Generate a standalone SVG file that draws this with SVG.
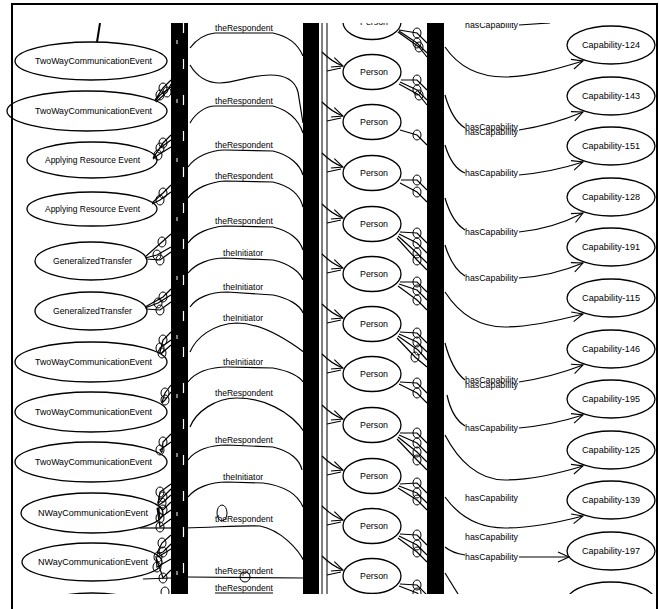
<svg xmlns="http://www.w3.org/2000/svg" width="659" height="609" viewBox="0 0 659 609">
<style>
.n ellipse{fill:none;stroke:#000;stroke-width:1.3}
text{font-family:"Liberation Sans",Arial,sans-serif;font-size:9px;fill:#000}
#connectors path{fill:none;stroke:#000;stroke-width:1.2}
#connectors ellipse{fill:none;stroke:#000;stroke-width:1}
.bar{fill:#000}
</style>
<defs>
<marker id="v" markerUnits="userSpaceOnUse" markerWidth="14" markerHeight="12" refX="12" refY="6" orient="auto"><path d="M1,1 L12,6 L1,11" fill="none" stroke="#000" stroke-width="1.1"/></marker>
<clipPath id="cl"><rect x="0" y="23" width="659" height="571"/></clipPath>
</defs>
<rect width="659" height="609" fill="#fff"/>
<path d="M12,609 V4 H657 V609" fill="none" stroke="#000" stroke-width="2"/>
<g clip-path="url(#cl)">
<g id="bars">
<rect class="bar" x="171" y="23" width="17" height="571"/>
<line x1="183.5" y1="23" x2="183.5" y2="594" stroke="#fff" stroke-width="1.2" stroke-dasharray="10 26"/>
<line x1="177" y1="40" x2="177" y2="594" stroke="#fff" stroke-width="1" stroke-dasharray="4 55"/>
<rect class="bar" x="303" y="23" width="16" height="571"/>
<line x1="322" y1="23" x2="322" y2="594" stroke="#000" stroke-width="1"/>
<line x1="327" y1="23" x2="327" y2="594" stroke="#000" stroke-width="1"/>
<rect class="bar" x="427" y="23" width="17" height="571"/>
</g>
<g id="connectors">
<path d="M100,23 L97,42" style="stroke-width:2"/>
<path d="M155,100 L163,88 L171,80 M155,101 L160,95 L171,87 M156,102 L167,92 L171,84"/>
<ellipse cx="163" cy="88" rx="4" ry="5"/><ellipse cx="160" cy="95" rx="4" ry="5"/><ellipse cx="167" cy="92" rx="4" ry="5"/>
<path d="M153,158 L163,143 L171,135 M153,158 L160,148 L171,140 M153,159 L158,155 L171,147"/>
<ellipse cx="163" cy="143" rx="4" ry="5"/><ellipse cx="160" cy="148" rx="4" ry="5"/><ellipse cx="158" cy="155" rx="4" ry="5"/>
<path d="M152,203 L163,193 L171,185 M152,204 L160,200 L171,192"/>
<ellipse cx="163" cy="193" rx="4" ry="5"/><ellipse cx="160" cy="200" rx="4" ry="5"/>
<path d="M145,257 L162,242 L171,234 M145,258 L157,255 L171,247 M146,259 L160,260 L171,252"/>
<ellipse cx="162" cy="242" rx="4" ry="5"/><ellipse cx="157" cy="255" rx="4" ry="5"/><ellipse cx="160" cy="260" rx="4" ry="5"/>
<path d="M145,307 L163,297 L171,289 M145,308 L158,303 L171,295 M146,309 L160,310 L171,302"/>
<ellipse cx="163" cy="297" rx="4" ry="5"/><ellipse cx="158" cy="303" rx="4" ry="5"/><ellipse cx="160" cy="310" rx="4" ry="5"/>
<path d="M160,352 L163,340 L171,332 M160,353 L160,348 L171,340 M161,354 L162,353 L171,345"/>
<ellipse cx="163" cy="340" rx="4" ry="5"/><ellipse cx="160" cy="348" rx="4" ry="5"/><ellipse cx="162" cy="353" rx="4" ry="5"/>
<path d="M162,402 L165,393 L171,385 M162,403 L165,400 L171,392"/>
<ellipse cx="165" cy="393" rx="4" ry="5"/><ellipse cx="165" cy="400" rx="4" ry="5"/>
<path d="M162,452 L163,442 L171,434 M162,453 L160,450 L171,442"/>
<ellipse cx="163" cy="442" rx="4" ry="5"/><ellipse cx="160" cy="450" rx="4" ry="5"/>
<path d="M158,503 L160,492 L171,484 M158,504 L163,497 L171,489 M159,505 L162,503 L171,495 M159,506 L163,510 L171,502 M158,507 L160,518 L171,510 M157,508 L160,527 L171,519"/>
<ellipse cx="160" cy="492" rx="4" ry="5"/><ellipse cx="163" cy="497" rx="4" ry="5"/><ellipse cx="162" cy="503" rx="4" ry="5"/><ellipse cx="163" cy="510" rx="4" ry="5"/><ellipse cx="160" cy="518" rx="4" ry="5"/><ellipse cx="160" cy="527" rx="4" ry="5"/>
<path d="M140,528 L171,528"/>
<path d="M157,553 L162,543 L171,535 M157,554 L163,552 L171,544 M157,555 L158,557 L171,549 M156,556 L157,567 L171,559 M156,557 L163,578 L171,570"/>
<ellipse cx="162" cy="543" rx="4" ry="5"/><ellipse cx="163" cy="552" rx="4" ry="5"/><ellipse cx="158" cy="557" rx="4" ry="5"/><ellipse cx="157" cy="567" rx="4" ry="5"/><ellipse cx="163" cy="578" rx="4" ry="5"/>
<path d="M143,579 L171,578"/>
<ellipse cx="165" cy="592" rx="4" ry="5"/>
<path d="M190,48 C196,40 205,34 215,33 L273,33 C287,36 298,44 303,56"/>
<path d="M190,65 C196,75 206,83 220,83 C235,83 250,75 270,75 C285,75 295,80 298,92 L303,123"/>
<path d="M190,123 C195,114 205,106 215,106 L273,106 C287,110 298,118 303,133"/>
<path d="M188,167 C195,157 210,150 225,150 L273,151 C290,155 300,165 303,175"/>
<path d="M188,198 C195,188 210,182 225,181 L273,182 C290,186 300,195 303,207"/>
<path d="M188,243 C195,233 210,227 225,226 L273,227 C290,231 300,240 303,250"/>
<path d="M188,273 C195,264 210,258 225,258 L273,260 C290,264 300,272 303,280"/>
<path d="M190,307 C196,298 210,292 227,292 L273,295 C288,298 300,305 303,313"/>
<path d="M190,352 C196,338 212,324 237,323 C260,323 285,338 305,353"/>
<path d="M188,382 C195,372 210,367 227,367 L273,368 C290,371 300,377 303,382"/>
<path d="M190,427 C196,412 215,398 237,398 C262,398 290,410 305,433"/>
<path d="M188,460 C195,450 210,445 227,445 L273,447 C290,451 300,460 302,470"/>
<path d="M188,497 C195,488 210,482 227,482 L263,483 C285,486 298,495 303,507"/>
<path d="M185,528 C220,527 247,525 260,526 C280,530 298,548 305,563"/>
<ellipse cx="222" cy="513" rx="5" ry="8"/>
<path d="M188,577 L303,578"/>
<ellipse cx="245" cy="577" rx="5" ry="5"/>
<path d="M215,593 L273,593"/>
<path d="M322,2 Q332,12 343,16" marker-end="url(#v)"/><path d="M327,21 L341,18"/>
<path d="M322,52 Q332,62 343,66" marker-end="url(#v)"/><path d="M327,71 L341,68"/>
<path d="M322,102 Q332,112 343,116" marker-end="url(#v)"/><path d="M327,121 L341,118"/>
<path d="M322,153 Q332,163 343,167" marker-end="url(#v)"/><path d="M327,172 L341,169"/>
<path d="M322,204 Q332,214 343,218" marker-end="url(#v)"/><path d="M327,223 L341,220"/>
<path d="M322,254 Q332,264 343,268" marker-end="url(#v)"/><path d="M327,273 L341,270"/>
<path d="M322,304 Q332,314 343,318" marker-end="url(#v)"/><path d="M327,323 L341,320"/>
<path d="M322,354 Q332,364 343,368" marker-end="url(#v)"/><path d="M327,373 L341,370"/>
<path d="M322,405 Q332,415 343,419" marker-end="url(#v)"/><path d="M327,424 L341,421"/>
<path d="M322,456 Q332,466 343,470" marker-end="url(#v)"/><path d="M327,475 L341,472"/>
<path d="M322,506 Q332,516 343,520" marker-end="url(#v)"/><path d="M327,525 L341,522"/>
<path d="M322,556 Q332,566 343,570" marker-end="url(#v)"/><path d="M327,575 L341,572"/>
<path d="M399,30 L417,33 L427,43 M399,31 L417,43 L427,53 M398,32 L419,47 L427,57"/>
<ellipse cx="417" cy="33" rx="4" ry="5"/><ellipse cx="417" cy="43" rx="4" ry="5"/><ellipse cx="419" cy="47" rx="4" ry="5"/>
<path d="M401,80 L417,80 L427,90 M400,82 L417,90 L427,100 M399,84 L419,95 L427,105"/>
<ellipse cx="417" cy="80" rx="4" ry="5"/><ellipse cx="417" cy="90" rx="4" ry="5"/><ellipse cx="419" cy="95" rx="4" ry="5"/>
<path d="M400,130 L417,135 L427,145"/>
<ellipse cx="417" cy="135" rx="4" ry="5"/>
<path d="M401,180 L417,180 L427,190 M400,183 L417,192 L427,202"/>
<ellipse cx="417" cy="180" rx="4" ry="5"/><ellipse cx="417" cy="192" rx="4" ry="5"/>
<path d="M400,232 L417,233 L427,243 M399,234 L417,243 L427,253 M398,236 L417,253 L427,263 M397,238 L417,260 L427,270"/>
<ellipse cx="417" cy="233" rx="4" ry="5"/><ellipse cx="417" cy="243" rx="4" ry="5"/><ellipse cx="417" cy="253" rx="4" ry="5"/><ellipse cx="417" cy="260" rx="4" ry="5"/>
<path d="M400,282 L417,282 L427,292 M399,284 L417,290 L427,300 M398,286 L417,300 L427,310"/>
<ellipse cx="417" cy="282" rx="4" ry="5"/><ellipse cx="417" cy="290" rx="4" ry="5"/><ellipse cx="417" cy="300" rx="4" ry="5"/>
<path d="M400,332 L417,333 L427,343 M399,334 L417,342 L427,352 M398,336 L418,350 L427,360 M397,338 L415,357 L427,367"/>
<ellipse cx="417" cy="333" rx="4" ry="5"/><ellipse cx="417" cy="342" rx="4" ry="5"/><ellipse cx="418" cy="350" rx="4" ry="5"/><ellipse cx="415" cy="357" rx="4" ry="5"/>
<path d="M400,382 L417,383 L427,393 M399,384 L417,393 L427,403"/>
<ellipse cx="417" cy="383" rx="4" ry="5"/><ellipse cx="417" cy="393" rx="4" ry="5"/>
<path d="M400,433 L417,433 L427,443 M399,435 L417,443 L427,453 M398,437 L417,452 L427,462 M397,439 L417,460 L427,470"/>
<ellipse cx="417" cy="433" rx="4" ry="5"/><ellipse cx="417" cy="443" rx="4" ry="5"/><ellipse cx="417" cy="452" rx="4" ry="5"/><ellipse cx="417" cy="460" rx="4" ry="5"/>
<path d="M400,484 L417,483 L427,493 M399,486 L417,493 L427,503 M398,488 L417,500 L427,510"/>
<ellipse cx="417" cy="483" rx="4" ry="5"/><ellipse cx="417" cy="493" rx="4" ry="5"/><ellipse cx="417" cy="500" rx="4" ry="5"/>
<path d="M400,534 L417,535 L427,545 M399,536 L417,545 L427,555 M398,538 L417,552 L427,562"/>
<ellipse cx="417" cy="535" rx="4" ry="5"/><ellipse cx="417" cy="545" rx="4" ry="5"/><ellipse cx="417" cy="552" rx="4" ry="5"/>
<path d="M400,584 L417,585 L427,595 M399,586 L417,593 L427,603"/>
<ellipse cx="417" cy="585" rx="4" ry="5"/><ellipse cx="417" cy="593" rx="4" ry="5"/>
<path d="M519,25 L550,23"/>
<path d="M445,47 C458,66 478,77 505,77 C530,77 560,68 583,61" marker-end="url(#v)"/>
<path d="M445,95 Q452,120 465,128"/><path d="M519,130 Q552,125 583,112" marker-end="url(#v)"/>
<path d="M445,145 Q452,168 465,173"/><path d="M519,175 Q552,172 583,162" marker-end="url(#v)"/>
<path d="M445,198 Q452,222 465,230"/><path d="M519,232 Q552,229 583,213" marker-end="url(#v)"/>
<path d="M445,245 Q452,268 465,276"/><path d="M519,278 Q552,276 583,263" marker-end="url(#v)"/>
<path d="M445,292 C458,312 478,327 505,327 C530,327 560,320 583,314" marker-end="url(#v)"/>
<path d="M445,343 Q452,370 465,380"/><path d="M519,382 Q552,377 583,365" marker-end="url(#v)"/>
<path d="M447,395 Q452,418 465,426"/><path d="M519,428 Q552,425 583,415" marker-end="url(#v)"/>
<path d="M445,435 C458,460 478,480 505,480 C530,480 560,473 583,466" marker-end="url(#v)"/>
<path d="M445,497 C458,515 478,528 505,528 C530,528 560,522 583,516" marker-end="url(#v)"/>
<path d="M445,547 Q452,553 465,555"/><path d="M519,557 L569,557" marker-end="url(#v)"/>
<path d="M445,573 L458,594"/>
<g id="edge-labels">
<text x="215" y="31" textLength="58" lengthAdjust="spacingAndGlyphs">theRespondent</text>
<text x="215" y="104" textLength="58" lengthAdjust="spacingAndGlyphs">theRespondent</text>
<text x="215" y="148" textLength="58" lengthAdjust="spacingAndGlyphs">theRespondent</text>
<text x="215" y="179" textLength="58" lengthAdjust="spacingAndGlyphs">theRespondent</text>
<text x="215" y="224" textLength="58" lengthAdjust="spacingAndGlyphs">theRespondent</text>
<text x="223" y="256" textLength="40" lengthAdjust="spacingAndGlyphs">theInitiator</text>
<text x="223" y="290" textLength="40" lengthAdjust="spacingAndGlyphs">theInitiator</text>
<text x="223" y="321" textLength="40" lengthAdjust="spacingAndGlyphs">theInitiator</text>
<text x="223" y="365" textLength="40" lengthAdjust="spacingAndGlyphs">theInitiator</text>
<text x="215" y="396" textLength="58" lengthAdjust="spacingAndGlyphs">theRespondent</text>
<text x="215" y="443" textLength="58" lengthAdjust="spacingAndGlyphs">theRespondent</text>
<text x="223" y="480" textLength="40" lengthAdjust="spacingAndGlyphs">theInitiator</text>
<text x="215" y="522" textLength="58" lengthAdjust="spacingAndGlyphs">theRespondent</text>
<text x="215" y="574" textLength="58" lengthAdjust="spacingAndGlyphs">theRespondent</text>
<text x="215" y="591" textLength="58" lengthAdjust="spacingAndGlyphs">theRespondent</text>
<text x="465" y="28" textLength="53" lengthAdjust="spacingAndGlyphs">hasCapability</text>
<text x="465" y="130" textLength="53" lengthAdjust="spacingAndGlyphs">hasCapability</text>
<text x="465" y="135" textLength="53" lengthAdjust="spacingAndGlyphs">hasCapability</text>
<text x="465" y="176" textLength="53" lengthAdjust="spacingAndGlyphs">hasCapability</text>
<text x="465" y="235" textLength="53" lengthAdjust="spacingAndGlyphs">hasCapability</text>
<text x="465" y="281" textLength="53" lengthAdjust="spacingAndGlyphs">hasCapability</text>
<text x="465" y="383" textLength="53" lengthAdjust="spacingAndGlyphs">hasCapability</text>
<text x="465" y="388" textLength="53" lengthAdjust="spacingAndGlyphs">hasCapability</text>
<text x="465" y="431" textLength="53" lengthAdjust="spacingAndGlyphs">hasCapability</text>
<text x="465" y="501" textLength="53" lengthAdjust="spacingAndGlyphs">hasCapability</text>
<text x="465" y="540" textLength="53" lengthAdjust="spacingAndGlyphs">hasCapability</text>
<text x="465" y="560" textLength="53" lengthAdjust="spacingAndGlyphs">hasCapability</text>
</g>
</g>
<g id="e1" class="n"><ellipse cx="91" cy="61" rx="76" ry="19"/><text x="35" y="64" textLength="117" lengthAdjust="spacingAndGlyphs">TwoWayCommunicationEvent</text></g>
<g id="e2" class="n"><ellipse cx="87" cy="111" rx="80" ry="20"/><text x="35" y="114" textLength="117" lengthAdjust="spacingAndGlyphs">TwoWayCommunicationEvent</text></g>
<g id="e3" class="n"><ellipse cx="92" cy="160" rx="65" ry="18"/><text x="45" y="163" textLength="95" lengthAdjust="spacingAndGlyphs">Applying Resource Event</text></g>
<g id="e4" class="n"><ellipse cx="92" cy="209" rx="65" ry="17"/><text x="45" y="212" textLength="95" lengthAdjust="spacingAndGlyphs">Applying Resource Event</text></g>
<g id="e5" class="n"><ellipse cx="91" cy="261" rx="56" ry="19"/><text x="53" y="264" textLength="79" lengthAdjust="spacingAndGlyphs">GeneralizedTransfer</text></g>
<g id="e6" class="n"><ellipse cx="91" cy="311" rx="56" ry="19"/><text x="53" y="314" textLength="79" lengthAdjust="spacingAndGlyphs">GeneralizedTransfer</text></g>
<g id="e7" class="n"><ellipse cx="91" cy="362" rx="76" ry="20"/><text x="35" y="365" textLength="117" lengthAdjust="spacingAndGlyphs">TwoWayCommunicationEvent</text></g>
<g id="e8" class="n"><ellipse cx="91" cy="412" rx="76" ry="20"/><text x="35" y="415" textLength="117" lengthAdjust="spacingAndGlyphs">TwoWayCommunicationEvent</text></g>
<g id="e9" class="n"><ellipse cx="91" cy="462" rx="76" ry="20"/><text x="35" y="465" textLength="117" lengthAdjust="spacingAndGlyphs">TwoWayCommunicationEvent</text></g>
<g id="e10" class="n"><ellipse cx="92" cy="513" rx="71" ry="20"/><text x="38" y="516" textLength="110" lengthAdjust="spacingAndGlyphs">NWayCommunicationEvent</text></g>
<g id="e11" class="n"><ellipse cx="92" cy="562" rx="70" ry="19"/><text x="38" y="565" textLength="110" lengthAdjust="spacingAndGlyphs">NWayCommunicationEvent</text></g>
<g id="e12" class="n"><ellipse cx="92" cy="612" rx="60" ry="19"/></g>
<g id="p0" class="n"><ellipse cx="372" cy="22" rx="29" ry="17.5"/><text x="360" y="25" textLength="28" lengthAdjust="spacingAndGlyphs">Person</text></g>
<g id="p1" class="n"><ellipse cx="372" cy="72" rx="29" ry="17.5"/><text x="360" y="75" textLength="28" lengthAdjust="spacingAndGlyphs">Person</text></g>
<g id="p2" class="n"><ellipse cx="372" cy="122" rx="29" ry="17.5"/><text x="360" y="125" textLength="28" lengthAdjust="spacingAndGlyphs">Person</text></g>
<g id="p3" class="n"><ellipse cx="372" cy="173" rx="29" ry="17.5"/><text x="360" y="176" textLength="28" lengthAdjust="spacingAndGlyphs">Person</text></g>
<g id="p4" class="n"><ellipse cx="372" cy="224" rx="29" ry="17.5"/><text x="360" y="227" textLength="28" lengthAdjust="spacingAndGlyphs">Person</text></g>
<g id="p5" class="n"><ellipse cx="372" cy="274" rx="29" ry="17.5"/><text x="360" y="277" textLength="28" lengthAdjust="spacingAndGlyphs">Person</text></g>
<g id="p6" class="n"><ellipse cx="372" cy="324" rx="29" ry="17.5"/><text x="360" y="327" textLength="28" lengthAdjust="spacingAndGlyphs">Person</text></g>
<g id="p7" class="n"><ellipse cx="372" cy="374" rx="29" ry="17.5"/><text x="360" y="377" textLength="28" lengthAdjust="spacingAndGlyphs">Person</text></g>
<g id="p8" class="n"><ellipse cx="372" cy="425" rx="29" ry="17.5"/><text x="360" y="428" textLength="28" lengthAdjust="spacingAndGlyphs">Person</text></g>
<g id="p9" class="n"><ellipse cx="372" cy="476" rx="29" ry="17.5"/><text x="360" y="479" textLength="28" lengthAdjust="spacingAndGlyphs">Person</text></g>
<g id="p10" class="n"><ellipse cx="372" cy="526" rx="29" ry="17.5"/><text x="360" y="529" textLength="28" lengthAdjust="spacingAndGlyphs">Person</text></g>
<g id="p11" class="n"><ellipse cx="372" cy="576" rx="29" ry="17.5"/><text x="360" y="579" textLength="28" lengthAdjust="spacingAndGlyphs">Person</text></g>
<g id="c124" class="n"><ellipse cx="611" cy="45" rx="44" ry="19"/><text x="582" y="48" textLength="58" lengthAdjust="spacingAndGlyphs">Capability-124</text></g>
<g id="c143" class="n"><ellipse cx="611" cy="96" rx="44" ry="19"/><text x="582" y="99" textLength="58" lengthAdjust="spacingAndGlyphs">Capability-143</text></g>
<g id="c151" class="n"><ellipse cx="611" cy="146" rx="44" ry="19"/><text x="582" y="149" textLength="58" lengthAdjust="spacingAndGlyphs">Capability-151</text></g>
<g id="c128" class="n"><ellipse cx="611" cy="197" rx="44" ry="19"/><text x="582" y="200" textLength="58" lengthAdjust="spacingAndGlyphs">Capability-128</text></g>
<g id="c191" class="n"><ellipse cx="611" cy="247" rx="44" ry="19"/><text x="582" y="250" textLength="58" lengthAdjust="spacingAndGlyphs">Capability-191</text></g>
<g id="c115" class="n"><ellipse cx="611" cy="298" rx="44" ry="19"/><text x="582" y="301" textLength="58" lengthAdjust="spacingAndGlyphs">Capability-115</text></g>
<g id="c146" class="n"><ellipse cx="611" cy="349" rx="44" ry="19"/><text x="582" y="352" textLength="58" lengthAdjust="spacingAndGlyphs">Capability-146</text></g>
<g id="c195" class="n"><ellipse cx="611" cy="399" rx="44" ry="19"/><text x="582" y="402" textLength="58" lengthAdjust="spacingAndGlyphs">Capability-195</text></g>
<g id="c125" class="n"><ellipse cx="611" cy="450" rx="44" ry="19"/><text x="582" y="453" textLength="58" lengthAdjust="spacingAndGlyphs">Capability-125</text></g>
<g id="c139" class="n"><ellipse cx="611" cy="500" rx="44" ry="19"/><text x="582" y="503" textLength="58" lengthAdjust="spacingAndGlyphs">Capability-139</text></g>
<g id="c197" class="n"><ellipse cx="611" cy="551" rx="44" ry="19"/><text x="582" y="554" textLength="58" lengthAdjust="spacingAndGlyphs">Capability-197</text></g>
<g id="c-last" class="n"><ellipse cx="611" cy="601" rx="44" ry="19"/></g>
</g>
</svg>
